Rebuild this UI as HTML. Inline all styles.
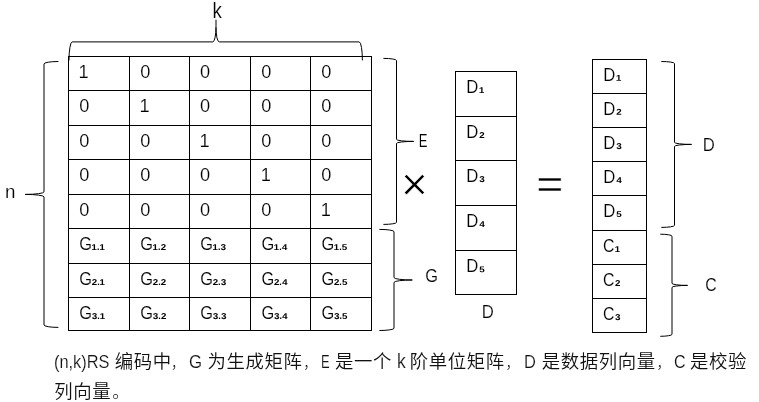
<!DOCTYPE html>
<html lang="zh-CN">
<head>
<meta charset="utf-8">
<title>RS 编码</title>
<style>
html,body{margin:0;padding:0;background:#fff;}
body{width:759px;height:402px;overflow:hidden;position:relative;font-family:"Liberation Sans","Noto Sans CJK SC",sans-serif;color:#111;}
svg{position:absolute;left:0;top:0;display:block;}
svg,.cap{filter:grayscale(1);}
svg text{font-family:"Liberation Sans","Noto Sans CJK SC",sans-serif;fill:#000;}
.grid line,.grid rect{stroke:#000;stroke-width:1;fill:none;shape-rendering:crispEdges;}
.brace{stroke:#000;stroke-width:1;fill:none;stroke-linecap:butt;stroke-linejoin:round;}
.op text{fill:#000;stroke:#fff;stroke-width:0.65px;}
.c text{stroke:#fff;stroke-width:0.15px;}
.c text.s{font-size:17px;font-weight:bold;stroke:none;}
.c text.p{font-size:9px;font-weight:bold;stroke:none;}
.cap{position:absolute;left:0;top:0;width:759px;height:402px;font-size:18.4px;letter-spacing:0.6px;font-weight:350;}
.cap span{position:absolute;white-space:nowrap;line-height:28px;height:28px;}
.cap .l{font-size:17.5px;letter-spacing:0;transform-origin:0 50%;-webkit-text-stroke:0.15px #fff;}
.cap .k{font-size:19.6px;}
.cap b{font-weight:300;font-size:17px;margin-left:1.2px;}
.cap i{font-style:normal;margin-left:0.8px;font-size:14.5px;font-weight:300;}
</style>
</head>
<body>
<svg width="759" height="402" viewBox="0 0 759 402">
<g class="grid">
<rect x="68.5" y="56.5" width="303.0" height="274.0"/>
<line x1="129.5" y1="56.5" x2="129.5" y2="330.5"/>
<line x1="189.5" y1="56.5" x2="189.5" y2="330.5"/>
<line x1="250.5" y1="56.5" x2="250.5" y2="330.5"/>
<line x1="310.5" y1="56.5" x2="310.5" y2="330.5"/>
<line x1="68.5" y1="90.5" x2="371.5" y2="90.5"/>
<line x1="68.5" y1="125.5" x2="371.5" y2="125.5"/>
<line x1="68.5" y1="159.5" x2="371.5" y2="159.5"/>
<line x1="68.5" y1="194.5" x2="371.5" y2="194.5"/>
<line x1="68.5" y1="228.5" x2="371.5" y2="228.5"/>
<line x1="68.5" y1="263.5" x2="371.5" y2="263.5"/>
<line x1="68.5" y1="297.5" x2="371.5" y2="297.5"/>
<rect x="455.5" y="71.5" width="61.0" height="223.0"/>
<line x1="455.5" y1="116.5" x2="516.5" y2="116.5"/>
<line x1="455.5" y1="160.5" x2="516.5" y2="160.5"/>
<line x1="455.5" y1="205.5" x2="516.5" y2="205.5"/>
<line x1="455.5" y1="250.5" x2="516.5" y2="250.5"/>
<rect x="592.5" y="59.5" width="54.0" height="273.0"/>
<line x1="592.5" y1="93.5" x2="646.5" y2="93.5"/>
<line x1="592.5" y1="127.5" x2="646.5" y2="127.5"/>
<line x1="592.5" y1="161.5" x2="646.5" y2="161.5"/>
<line x1="592.5" y1="195.5" x2="646.5" y2="195.5"/>
<line x1="592.5" y1="230.5" x2="646.5" y2="230.5"/>
<line x1="592.5" y1="264.5" x2="646.5" y2="264.5"/>
<line x1="592.5" y1="298.5" x2="646.5" y2="298.5"/>
</g>
<g class="brace">
<path d="M69 60.4 A3.2 18.5 0 0 1 72.2 41.9 L212.8 41.9 A3.2 15 0 0 0 216 26.9 L216 19.7 M216 27.4 A3.2 14.5 0 0 0 219.2 41.9 L359.2 41.9 A3.2 18.5 0 0 1 362.4 60.4"/>
<path d="M58.4 61.5 A14.40 2.4 0 0 0 44.0 63.9 L44.0 191.9 A18.70 2.5 0 0 1 25.3 194.4 A18.70 2.5 0 0 1 44.0 196.9 L44.0 325.0 A14.40 2.4 0 0 0 58.4 327.4"/>
<path d="M383.4 58.4 A13.10 2.0 0 0 1 396.5 60.4 L396.5 139.4 A17.10 2.0 0 0 0 413.6 141.4 A17.10 2.0 0 0 0 396.5 143.4 L396.5 222.4 A13.10 2.0 0 0 1 383.4 224.4"/>
<path d="M379.4 229.4 A14.60 2.2 0 0 1 394.0 231.6 L394.0 277.6 A18.30 2.4 0 0 0 412.3 280.0 A18.30 2.4 0 0 0 394.0 282.4 L394.0 328.3 A14.60 2.2 0 0 1 379.4 330.5"/>
<path d="M661.3 61.5 A13.20 2.0 0 0 1 674.5 63.5 L674.5 142.4 A17.10 2.0 0 0 0 691.6 144.4 A17.10 2.0 0 0 0 674.5 146.4 L674.5 225.4 A13.20 2.0 0 0 1 661.3 227.4"/>
<path d="M660.3 234.2 A11.70 2.0 0 0 1 672.0 236.2 L672.0 283.4 A15.60 2.0 0 0 0 687.6 285.4 A15.60 2.0 0 0 0 672.0 287.4 L672.0 334.3 A11.70 2.0 0 0 1 660.3 336.3"/>
</g>
<g class="op">
<text x="400.96" y="199.8" font-size="46">×</text>
<text transform="translate(549.8,184.35) scale(1,0.875)" x="-13.74" y="15.5" font-size="47.1">=</text>
</g>
<g class="c">
<text x="78.59" y="78.0" font-size="18.2">1</text>
<text x="140.19" y="78.0" font-size="18.2">0</text>
<text x="200.09" y="78.0" font-size="18.2">0</text>
<text x="261.29" y="78.0" font-size="18.2">0</text>
<text x="321.29" y="78.0" font-size="18.2">0</text>
<text x="79.19" y="112.0" font-size="18.2">0</text>
<text x="139.59" y="112.0" font-size="18.2">1</text>
<text x="200.09" y="112.0" font-size="18.2">0</text>
<text x="261.29" y="112.0" font-size="18.2">0</text>
<text x="321.29" y="112.0" font-size="18.2">0</text>
<text x="79.19" y="147.0" font-size="18.2">0</text>
<text x="140.19" y="147.0" font-size="18.2">0</text>
<text x="199.49" y="147.0" font-size="18.2">1</text>
<text x="261.29" y="147.0" font-size="18.2">0</text>
<text x="321.29" y="147.0" font-size="18.2">0</text>
<text x="79.19" y="181.0" font-size="18.2">0</text>
<text x="140.19" y="181.0" font-size="18.2">0</text>
<text x="200.09" y="181.0" font-size="18.2">0</text>
<text x="260.69" y="181.0" font-size="18.2">1</text>
<text x="321.29" y="181.0" font-size="18.2">0</text>
<text x="79.19" y="216.0" font-size="18.2">0</text>
<text x="140.19" y="216.0" font-size="18.2">0</text>
<text x="200.09" y="216.0" font-size="18.2">0</text>
<text x="261.29" y="216.0" font-size="18.2">0</text>
<text x="320.69" y="216.0" font-size="18.2">1</text>
<text transform="translate(80.20,250.00) scale(0.9,1)" x="-0.92" y="0" font-size="18.2">G</text><text class="s" transform="translate(92.09,249.47) rotate(0.2) scale(0.83,1)" x="-0.89" y="0">₁</text><text class="p" x="97.05" y="250.00">.</text><text class="s" transform="translate(99.93,249.47) rotate(0.2) scale(0.83,1)" x="-0.89" y="0">₁</text>
<text transform="translate(141.20,250.00) scale(0.9,1)" x="-0.92" y="0" font-size="18.2">G</text><text class="s" transform="translate(153.09,249.47) rotate(0.2) scale(0.83,1)" x="-0.89" y="0">₁</text><text class="p" x="158.05" y="250.00">.</text><text class="s" transform="translate(160.93,249.47) rotate(0.2) scale(0.83,1)" x="-0.91" y="0">₂</text>
<text transform="translate(201.10,250.00) scale(0.9,1)" x="-0.92" y="0" font-size="18.2">G</text><text class="s" transform="translate(212.99,249.47) rotate(0.2) scale(0.83,1)" x="-0.89" y="0">₁</text><text class="p" x="217.95" y="250.00">.</text><text class="s" transform="translate(220.83,249.47) rotate(0.2) scale(0.83,1)" x="-0.92" y="0">₃</text>
<text transform="translate(262.30,250.00) scale(0.9,1)" x="-0.92" y="0" font-size="18.2">G</text><text class="s" transform="translate(274.19,249.47) rotate(0.2) scale(0.83,1)" x="-0.89" y="0">₁</text><text class="p" x="279.15" y="250.00">.</text><text class="s" transform="translate(282.03,249.47) rotate(0.2) scale(0.83,1)" x="-0.88" y="0">₄</text>
<text transform="translate(322.30,250.00) scale(0.9,1)" x="-0.92" y="0" font-size="18.2">G</text><text class="s" transform="translate(334.19,249.47) rotate(0.2) scale(0.83,1)" x="-0.89" y="0">₁</text><text class="p" x="339.15" y="250.00">.</text><text class="s" transform="translate(342.03,249.47) rotate(0.2) scale(0.83,1)" x="-0.91" y="0">₅</text>
<text transform="translate(80.20,285.00) scale(0.9,1)" x="-0.92" y="0" font-size="18.2">G</text><text class="s" transform="translate(92.09,284.47) rotate(0.2) scale(0.83,1)" x="-0.91" y="0">₂</text><text class="p" x="97.21" y="285.00">.</text><text class="s" transform="translate(100.09,284.47) rotate(0.2) scale(0.83,1)" x="-0.89" y="0">₁</text>
<text transform="translate(141.20,285.00) scale(0.9,1)" x="-0.92" y="0" font-size="18.2">G</text><text class="s" transform="translate(153.09,284.47) rotate(0.2) scale(0.83,1)" x="-0.91" y="0">₂</text><text class="p" x="158.21" y="285.00">.</text><text class="s" transform="translate(161.09,284.47) rotate(0.2) scale(0.83,1)" x="-0.91" y="0">₂</text>
<text transform="translate(201.10,285.00) scale(0.9,1)" x="-0.92" y="0" font-size="18.2">G</text><text class="s" transform="translate(212.99,284.47) rotate(0.2) scale(0.83,1)" x="-0.91" y="0">₂</text><text class="p" x="218.11" y="285.00">.</text><text class="s" transform="translate(220.99,284.47) rotate(0.2) scale(0.83,1)" x="-0.92" y="0">₃</text>
<text transform="translate(262.30,285.00) scale(0.9,1)" x="-0.92" y="0" font-size="18.2">G</text><text class="s" transform="translate(274.19,284.47) rotate(0.2) scale(0.83,1)" x="-0.91" y="0">₂</text><text class="p" x="279.31" y="285.00">.</text><text class="s" transform="translate(282.19,284.47) rotate(0.2) scale(0.83,1)" x="-0.88" y="0">₄</text>
<text transform="translate(322.30,285.00) scale(0.9,1)" x="-0.92" y="0" font-size="18.2">G</text><text class="s" transform="translate(334.19,284.47) rotate(0.2) scale(0.83,1)" x="-0.91" y="0">₂</text><text class="p" x="339.31" y="285.00">.</text><text class="s" transform="translate(342.19,284.47) rotate(0.2) scale(0.83,1)" x="-0.91" y="0">₅</text>
<text transform="translate(80.20,319.00) scale(0.9,1)" x="-0.92" y="0" font-size="18.2">G</text><text class="s" transform="translate(92.09,318.47) rotate(0.2) scale(0.83,1)" x="-0.92" y="0">₃</text><text class="p" x="97.36" y="319.00">.</text><text class="s" transform="translate(100.24,318.47) rotate(0.2) scale(0.83,1)" x="-0.89" y="0">₁</text>
<text transform="translate(141.20,319.00) scale(0.9,1)" x="-0.92" y="0" font-size="18.2">G</text><text class="s" transform="translate(153.09,318.47) rotate(0.2) scale(0.83,1)" x="-0.92" y="0">₃</text><text class="p" x="158.36" y="319.00">.</text><text class="s" transform="translate(161.24,318.47) rotate(0.2) scale(0.83,1)" x="-0.91" y="0">₂</text>
<text transform="translate(201.10,319.00) scale(0.9,1)" x="-0.92" y="0" font-size="18.2">G</text><text class="s" transform="translate(212.99,318.47) rotate(0.2) scale(0.83,1)" x="-0.92" y="0">₃</text><text class="p" x="218.26" y="319.00">.</text><text class="s" transform="translate(221.14,318.47) rotate(0.2) scale(0.83,1)" x="-0.92" y="0">₃</text>
<text transform="translate(262.30,319.00) scale(0.9,1)" x="-0.92" y="0" font-size="18.2">G</text><text class="s" transform="translate(274.19,318.47) rotate(0.2) scale(0.83,1)" x="-0.92" y="0">₃</text><text class="p" x="279.46" y="319.00">.</text><text class="s" transform="translate(282.34,318.47) rotate(0.2) scale(0.83,1)" x="-0.88" y="0">₄</text>
<text transform="translate(322.30,319.00) scale(0.9,1)" x="-0.92" y="0" font-size="18.2">G</text><text class="s" transform="translate(334.19,318.47) rotate(0.2) scale(0.83,1)" x="-0.92" y="0">₃</text><text class="p" x="339.46" y="319.00">.</text><text class="s" transform="translate(342.34,318.47) rotate(0.2) scale(0.83,1)" x="-0.91" y="0">₅</text>
<text transform="translate(467.60,93.00) scale(0.92,1)" x="-1.49" y="0" font-size="18.2">D</text><text class="s" transform="translate(479.52,92.47) rotate(0.2) scale(0.83,1)" x="-0.89" y="0">₁</text>
<text transform="translate(467.60,138.00) scale(0.92,1)" x="-1.49" y="0" font-size="18.2">D</text><text class="s" transform="translate(479.52,137.47) rotate(0.2) scale(0.83,1)" x="-0.91" y="0">₂</text>
<text transform="translate(467.60,182.00) scale(0.92,1)" x="-1.49" y="0" font-size="18.2">D</text><text class="s" transform="translate(479.52,181.47) rotate(0.2) scale(0.83,1)" x="-0.92" y="0">₃</text>
<text transform="translate(467.60,227.00) scale(0.92,1)" x="-1.49" y="0" font-size="18.2">D</text><text class="s" transform="translate(479.52,226.47) rotate(0.2) scale(0.83,1)" x="-0.88" y="0">₄</text>
<text transform="translate(467.60,272.30) scale(0.92,1)" x="-1.49" y="0" font-size="18.2">D</text><text class="s" transform="translate(479.52,271.77) rotate(0.2) scale(0.83,1)" x="-0.91" y="0">₅</text>
<text transform="translate(604.50,80.70) scale(0.92,1)" x="-1.49" y="0" font-size="18.2">D</text><text class="s" transform="translate(616.42,80.17) rotate(0.2) scale(0.83,1)" x="-0.89" y="0">₁</text>
<text transform="translate(604.50,114.80) scale(0.92,1)" x="-1.49" y="0" font-size="18.2">D</text><text class="s" transform="translate(616.42,114.27) rotate(0.2) scale(0.83,1)" x="-0.91" y="0">₂</text>
<text transform="translate(604.50,149.00) scale(0.92,1)" x="-1.49" y="0" font-size="18.2">D</text><text class="s" transform="translate(616.42,148.47) rotate(0.2) scale(0.83,1)" x="-0.92" y="0">₃</text>
<text transform="translate(604.50,183.00) scale(0.92,1)" x="-1.49" y="0" font-size="18.2">D</text><text class="s" transform="translate(616.42,182.47) rotate(0.2) scale(0.83,1)" x="-0.88" y="0">₄</text>
<text transform="translate(604.50,217.00) scale(0.92,1)" x="-1.49" y="0" font-size="18.2">D</text><text class="s" transform="translate(616.42,216.47) rotate(0.2) scale(0.83,1)" x="-0.91" y="0">₅</text>
<text transform="translate(603.80,252.00) scale(0.875,1)" x="-0.92" y="0" font-size="18.2">C</text><text class="s" transform="translate(615.19,251.47) rotate(0.2) scale(0.83,1)" x="-0.89" y="0">₁</text>
<text transform="translate(603.80,286.00) scale(0.875,1)" x="-0.92" y="0" font-size="18.2">C</text><text class="s" transform="translate(615.19,285.47) rotate(0.2) scale(0.83,1)" x="-0.91" y="0">₂</text>
<text transform="translate(603.80,320.00) scale(0.875,1)" x="-0.92" y="0" font-size="18.2">C</text><text class="s" transform="translate(615.19,319.47) rotate(0.2) scale(0.83,1)" x="-0.92" y="0">₃</text>
</g>
<g class="c">
<text transform="translate(213.85,17.65) scale(0.87,1)" x="-1.45" y="0" font-size="21.5">k</text>
<text x="5.00" y="197.65" font-size="18.8">n</text>
<text transform="translate(419.80,146.85) scale(0.72,1)" x="-1.49" y="0" font-size="18.2">E</text>
<text transform="translate(426.10,281.55) scale(0.9,1)" x="-0.92" y="0" font-size="18.2">G</text>
<text transform="translate(483.00,317.55) scale(0.92,1)" x="-1.49" y="0" font-size="18.2">D</text>
<text transform="translate(704.10,150.65) scale(0.92,1)" x="-1.49" y="0" font-size="18.2">D</text>
<text transform="translate(706.15,290.65) scale(0.875,1)" x="-0.92" y="0" font-size="18.2">C</text>
</g>
</svg>
<div class="cap">
<span class="l" style="left:54.05px;top:347.5px;transform:scaleX(0.935)">(n,k)RS</span>
<span style="left:114.8px;top:348.4px">编码中<i style="margin-left:-0.7px">，</i></span>
<span class="l" style="left:189.2px;top:347.5px;transform:scaleX(0.96)">G</span>
<span style="left:207.5px;top:348.4px">为生成矩阵<i>，</i></span>
<span class="l" style="left:320.9px;top:347.5px;transform:scaleX(0.74)">E</span>
<span style="left:335.1px;top:348.4px">是一个</span>
<span class="l k" style="left:396.7px;top:347.0px;transform:scaleX(0.89)">k</span>
<span style="left:409.8px;top:348.4px">阶单位矩阵<i>，</i></span>
<span class="l" style="left:523.6px;top:347.5px;transform:scaleX(0.94)">D</span>
<span style="left:541.8px;top:348.4px">是数据列向量<i>，</i></span>
<span class="l" style="left:673.6px;top:347.5px;transform:scaleX(0.92)">C</span>
<span style="left:690.0px;top:348.4px">是校验</span>
<span style="left:54.2px;top:377.50px">列向量<b>。</b></span>
</div>
</body>
</html>
